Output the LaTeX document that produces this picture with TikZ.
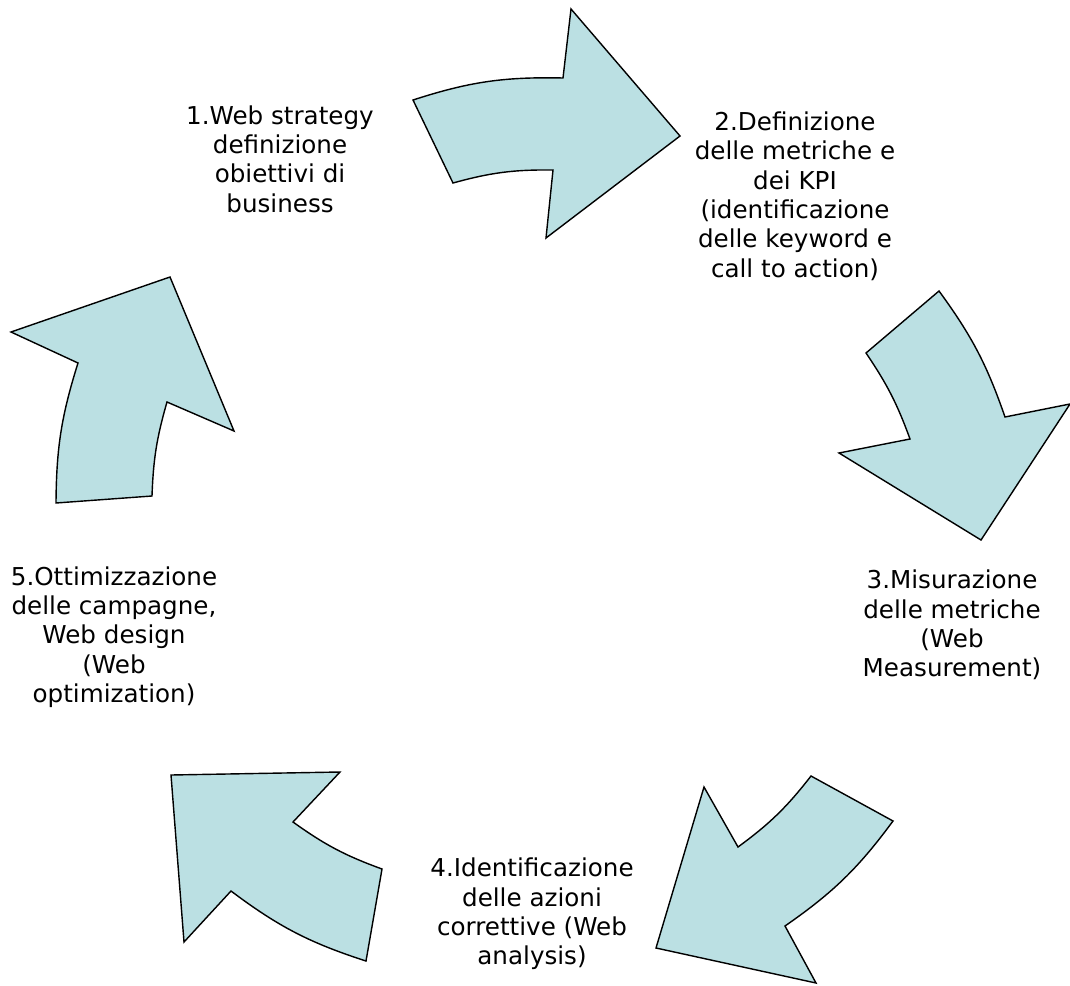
\documentclass[tikz,border=0pt]{standalone}
\usepackage{fontspec}
\setmainfont{DejaVu Sans}
\definecolor{CycleTeal}{RGB}{187,224,227}

\begin{document}
\begin{tikzpicture}[x=.025cm,y=-.025cm,
  freccia/.style={fill=CycleTeal,draw=black,line width=1pt,line join=miter},
  fase/.style={align=center,font=\fontsize{17.5}{20.9}\selectfont,inner sep=0pt}]
\useasboundingbox (0,0) rectangle (1070,985);
% the five curved arrows of the cycle
\draw[freccia] (413,100) to[bend left=9.6] (563,78) -- (571,9) -- (680,136) -- (546,238) -- (553,170) to[bend right=8] (453,183) -- cycle;
\draw[freccia] (939,291) -- (866,353) to[bend left=7] (910,439) -- (839,453) -- (981,540) -- (1070,404) -- (1005,417) to[bend right=8.5] cycle;
\draw[freccia] (704,787) -- (738,847) to[bend right=7.9] (811,776) -- (893,821) to[bend left=9.4] (785,926) -- (816,983) -- (656,948) -- cycle;
\draw[freccia] (171,775) -- (340,772) -- (293,822) to[bend right=7.8] (382,869) -- (366,961) to[bend left=9.5] (231,891) -- (184,942) -- cycle;
\draw[freccia] (11,332) -- (170,277) -- (234,431) -- (167,402) to[bend right=7] (152,496) -- (56,503) to[bend left=8.5] (78,363) -- cycle;
% phase labels
\node[fase] (f1) at (280,159) {1.Web strategy\\definizione\\obiettivi di\\business};
\node[fase] (f2) at (795,196) {2.Definizione\\delle metriche e\\dei KPI\\(identificazione\\delle keyword e\\call to action)};
\node[fase] (f3) at (952,625) {3.Misurazione\\delle metriche\\(Web\\Measurement)};
\node[fase] (f4) at (532,914) {4.Identificazione\\delle azioni\\correttive (Web\\analysis)};
\node[fase] (f5) at (114,637) {5.Ottimizzazione\\delle campagne,\\Web design\\(Web\\optimization)};
\end{tikzpicture}
\end{document}
